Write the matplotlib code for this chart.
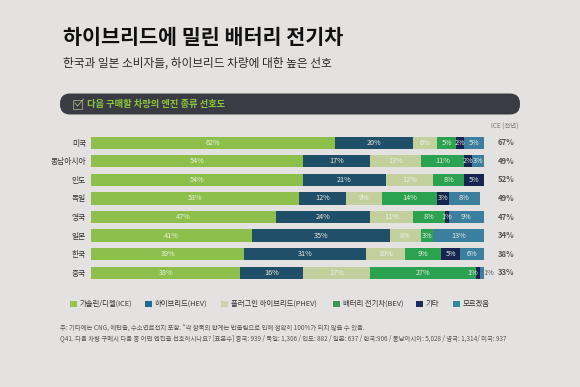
import matplotlib
matplotlib.use("Agg")
import matplotlib.pyplot as plt
from matplotlib.patches import FancyBboxPatch, Rectangle
import numpy as np

plt.rcParams['font.family'] = ['Noto Sans CJK KR', 'DejaVu Sans']

countries = ['미국', '동남아시아', '인도', '독일', '영국', '일본', '한국', '중국']
ice = [62, 54, 54, 53, 47, 41, 39, 38]
hev = [20, 17, 21, 12, 24, 35, 31, 16]
phev = [6, 13, 12, 9, 11, 8, 10, 17]
bev = [5, 11, 8, 14, 8, 3, 9, 27]
other = [2, 2, 5, 3, 1, 0, 5, 1]
unknown = [5, 3, 0, 8, 9, 13, 6, 1]
prev_ice = [67, 49, 52, 49, 47, 34, 38, 33]

series_names = ['가솔린/디젤(ICE)', '하이브리드(HEV)', '플러그인 하이브리드(PHEV)',
                '배터리 전기차(BEV)', '기타', '모르겠음']
series_vals = [ice, hev, phev, bev, other, unknown]
bar_colors = ['#8cc04a', '#1f4f69', '#c4cf9e', '#2ba24f', '#16244f', '#3b7f9f']
legend_colors = ['#9cc04f', '#1f6a9c', '#cdd0a8', '#3c9450', '#1a2a5a', '#2f8a9c']

title = '하이브리드에 밀린 배터리 전기차'
subtitle = '한국과 일본 소비자들, 하이브리드 차량에 대한 높은 선호'
banner = '다음 구매할 차량의 엔진 종류 선호도'
prev_header = 'ICE (전년)'
note1 = '주: 기타에는 CNG, 에탄올, 수소연료전지 포함. *각 항목의 합계는 반올림으로 인해 정확히 100%가 되지 않을 수 있음.'
note2 = 'Q41. 다음 차량 구매시 다음 중 어떤 엔진을 선호하시나요? [표본수] 중국: 939 / 독일: 1,306 / 인도: 882 / 일본: 637 / 한국:906 / 동남아시아: 5,028 / 영국: 1,314/ 미국: 937'

W, H = 580, 387
BG = '#e3e2e0'
fig = plt.figure(figsize=(W / 100, H / 100), dpi=100, facecolor=BG)

pg = fig.add_axes([0, 0, 1, 1], zorder=0)
pg.set_xlim(0, W)
pg.set_ylim(H, 0)
pg.axis('off')

pg.text(63, 37, title, fontsize=14.9, weight='bold', color='#111111', va='center', ha='left')
pg.text(63, 63, subtitle, fontsize=8.45, color='#2a2a2a', va='center', ha='left')

pg.add_patch(FancyBboxPatch((60, 93.5), 460, 21, boxstyle='round,pad=0,rounding_size=10',
                            fc='#3a3b43', ec='none'))
pg.add_patch(Rectangle((72.5, 99.5), 9.5, 9.5, fc='none', ec='#8f9a78', lw=0.7))
pg.plot([75, 77.5, 83.5], [103, 106, 99], color='#9aa882', lw=0.7)
pg.text(87, 104, banner, fontsize=6.7, weight='bold', color='#8cc63f', va='center', ha='left')

pg.text(491, 127, prev_header, fontsize=4.6, color='#777777', va='center', ha='left')

ax = fig.add_axes([91 / W, 1 - 282 / H, 393 / W, (282 - 133.5) / H], zorder=1)
ax.patch.set_alpha(0)
y = np.arange(len(countries))
ax.set_xlim(0, 100)
ax.set_ylim(len(countries) - 0.5, -0.5)
left = np.zeros(len(countries))
for si, (name, vals, col) in enumerate(zip(series_names, series_vals, bar_colors)):
    vals = np.array(vals, float)
    ax.barh(y, vals, left=left, height=0.66, color=col, edgecolor='none', label=name)
    for yi, v, l in zip(y, vals, left):
        if v > 0:
            nudge = 0
            txt_col = '#f2f4e8'
            if yi == 7 and si == 4:
                nudge = -1.3
            if yi == 7 and si == 5:
                nudge = 1.6
                txt_col = '#555555'
            ax.text(l + v / 2 + nudge, yi, f'{int(v)}%', ha='center', va='center',
                    fontsize=5.2, color=txt_col, alpha=0.95, clip_on=False)
    left += vals
for s in ax.spines.values():
    s.set_visible(False)
ax.set_xticks([])
ax.set_yticks(y)
ax.set_yticklabels(countries, fontsize=5.6, color='#333333')
ax.tick_params(axis='y', length=0, pad=3.5)

for yi, p in zip(y, prev_ice):
    ax.text(103.5, yi, f'{p}%', ha='left', va='center', fontsize=5.6,
            weight='bold', color='#555555', clip_on=False)

leg_x = [70, 145, 221, 333, 416, 453]
for lx, name, col in zip(leg_x, series_names, legend_colors):
    pg.add_patch(Rectangle((lx, 300.5), 6.5, 6.5, fc=col, ec='none'))
    pg.text(lx + 10, 306, name, fontsize=5.3, color='#333333', va='baseline', ha='left')

pg.text(60, 328, note1, fontsize=4.6, color='#555555', va='center', ha='left')
pg.text(60, 338.5, note2, fontsize=4.58, color='#555555', va='center', ha='left')

fig.savefig('out.png', dpi=100, facecolor=BG)
